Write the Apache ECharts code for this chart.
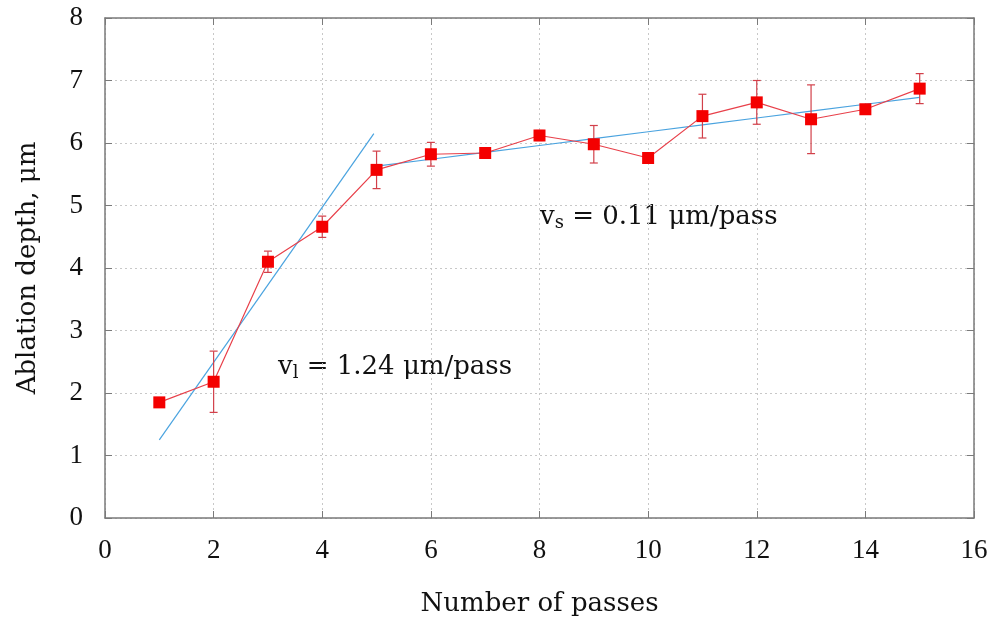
<!DOCTYPE html>
<html><head><meta charset="utf-8">
<script src="https://cdn.jsdelivr.net/npm/echarts@6/dist/echarts.min.js"></script>
<style>html,body{margin:0;padding:0;background:#fff}#c{width:995px;height:622px}</style>
</head><body><div id="c"></div>
<script>
const passes = [1,2,3,4,5,6,7,8,9,10,11,12,13,14,15];
const depth = [1.85,2.18,4.10,4.66,5.57,5.82,5.84,6.12,5.98,5.76,6.43,6.65,6.38,6.54,6.87];
const errs  = [0.03,0.49,0.17,0.17,0.30,0.19,0.07,0.08,0.30,0.02,0.35,0.35,0.55,0.04,0.24];
const fitLinX = [1, 4.95];
const fitLinY = [1.25, 6.15];
const fitSlowX = [5,6,7,8,9,10,11,12,13,14,15];
const fitSlowY = [5.63,5.74,5.85,5.96,6.07,6.18,6.29,6.40,6.51,6.62,6.73];
const xTicks = [0,2,4,6,8,10,12,14,16];
const yTicks = [0,1,2,3,4,5,6,7,8];

const FONT = 'Liberation Serif';
const FONT2 = 'DejaVu Serif';
const chart = echarts.init(document.getElementById('c'));
const axisCol = '#7a7a7a';
const gridLine = {show:true, lineStyle:{color:'#c8c8c8', type:[2,3], width:1}};

chart.setOption({
  animation:false,
  textStyle:{fontFamily:FONT},
  grid:{left:105, right:21, top:18, bottom:104, containLabel:false, outerBoundsMode:'none'},
  xAxis:[{
    type:'value', min:0, max:16, interval:2,
    axisLine:{show:true, onZero:false, lineStyle:{color:axisCol, width:1.5}},
    axisTick:{show:true, inside:true, length:7, lineStyle:{color:axisCol}},
    axisLabel:{color:'#111', fontSize:27, fontFamily:FONT, margin:19},
    splitLine:gridLine,
    name:'Number of passes', nameLocation:'middle', nameGap:73,
    nameTextStyle:{color:'#111', fontSize:26, fontFamily:FONT2}
  },{
    type:'value', min:0, max:16, interval:2, position:'top',
    axisLine:{show:true, onZero:false, lineStyle:{color:axisCol, width:1.5}},
    axisTick:{show:true, inside:true, length:7, lineStyle:{color:axisCol}},
    axisLabel:{show:false}, splitLine:{show:false}
  }],
  yAxis:[{
    type:'value', min:0, max:8, interval:1,
    axisLine:{show:true, onZero:false, lineStyle:{color:axisCol, width:1.5}},
    axisTick:{show:true, inside:true, length:7, lineStyle:{color:axisCol}},
    axisLabel:{color:'#111', fontSize:27, fontFamily:FONT, margin:22},
    splitLine:gridLine,
    name:'Ablation depth, μm', nameLocation:'middle', nameGap:64,
    nameTextStyle:{color:'#111', fontSize:26, fontFamily:FONT2}
  },{
    type:'value', min:0, max:8, interval:1, position:'right',
    axisLine:{show:true, onZero:false, lineStyle:{color:axisCol, width:1.5}},
    axisTick:{show:true, inside:true, length:7, lineStyle:{color:axisCol}},
    axisLabel:{show:false}, splitLine:{show:false}
  }],
  series:[
    {
      type:'line', data:fitLinX.map((x,i)=>[x,fitLinY[i]]),
      symbol:'none', lineStyle:{color:'#4aa3df', width:1.2}, z:3
    },
    {
      type:'line', data:fitSlowX.map((x,i)=>[x,fitSlowY[i]]),
      symbol:'none', lineStyle:{color:'#4aa3df', width:1.2}, z:3
    },
    {
      type:'custom', z:4,
      data:passes.map((x,i)=>[x, depth[i]-errs[i], depth[i]+errs[i]]),
      renderItem:function(params, api){
        const x = api.value(0);
        const lo = api.coord([x, api.value(1)]);
        const hi = api.coord([x, api.value(2)]);
        const w = 4;
        const st = {stroke:'#d2404a', lineWidth:1.2};
        return {type:'group', children:[
          {type:'line', shape:{x1:lo[0], y1:lo[1], x2:hi[0], y2:hi[1]}, style:st},
          {type:'line', shape:{x1:lo[0]-w, y1:lo[1], x2:lo[0]+w, y2:lo[1]}, style:st},
          {type:'line', shape:{x1:hi[0]-w, y1:hi[1], x2:hi[0]+w, y2:hi[1]}, style:st}
        ]};
      }
    },
    {
      type:'line', data:passes.map((x,i)=>[x,depth[i]]),
      symbol:'rect', symbolSize:12,
      itemStyle:{color:'#f40000'},
      lineStyle:{color:'#e8404a', width:1.2}, z:5
    }
  ],
  graphic:[
    {type:'text', left:278, top:354, style:{
      rich:{
        v:{fontFamily:FONT2, fontSize:26, fill:'#111'},
        s:{fontFamily:FONT2, fontSize:18, fill:'#111', padding:[13,0,0,0]},
        t:{fontFamily:FONT2, fontSize:26, fill:'#111'}
      },
      text:'{v|v}{s|l}{t| = 1.24 μm/pass}'
    }},
    {type:'text', left:540, top:204, style:{
      rich:{
        v:{fontFamily:FONT2, fontSize:26, fill:'#111'},
        s:{fontFamily:FONT2, fontSize:18, fill:'#111', padding:[13,0,0,0]},
        t:{fontFamily:FONT2, fontSize:26, fill:'#111'}
      },
      text:'{v|v}{s|s}{t| = 0.11 μm/pass}'
    }}
  ]
});
</script></body></html>
